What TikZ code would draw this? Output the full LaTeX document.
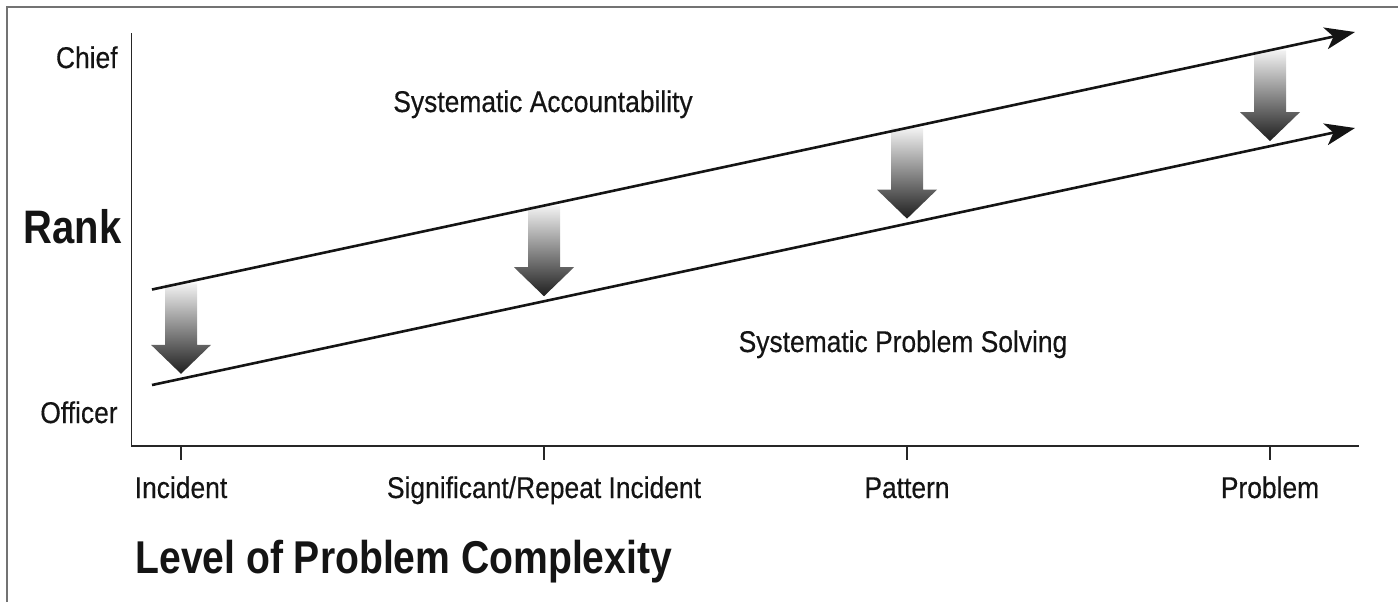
\documentclass[tikz,border=0pt]{standalone}
\usepackage{fontspec}
\setmainfont{Liberation Sans}[FakeStretch=0.88, FakeBold=0.4]
\newfontfamily\headfont{Liberation Sans}[FakeStretch=0.85]
\usetikzlibrary{arrows.meta}
\tikzset{
  label_txt/.style = {font=\fontsize{15}{18}\selectfont, text=black!92, inner sep=0pt},
  head_txt/.style = {font=\headfont\bfseries\fontsize{23}{28}\selectfont, text=black!92, inner sep=0pt},
  trend_line/.style = {line width=1.3pt, black!92, -{Stealth[length=15pt, width=11pt, inset=4pt]}},
  axis_line/.style = {line width=0.8pt, black!85},
  down_arrow/.style = {top color=black!5, bottom color=black!88},
}

\begin{document}
\begin{tikzpicture}[x=0.5pt, y=-0.5pt]
  \useasboundingbox (0,0) rectangle (1398,602);
  \draw[black!55, line width=1pt] (7,602) -- (7,7) -- (1398,7);

  \foreach \x in {181,544,907,1270} {
    \pgfmathsetmacro{\ya}{289.5-0.214*(\x-152)}
    \pgfmathsetmacro{\yb}{385-0.2137*(\x-152)-5}
    \shade[down_arrow] (\x-16,\ya) -- (\x+16,\ya) -- (\x+16,\yb-29) -- (\x+30,\yb-29)
      -- (\x,\yb) -- (\x-30,\yb-29) -- (\x-16,\yb-29) -- cycle;
  }

  \coordinate (acc_start) at (152,289.5);
  \coordinate (acc_end) at (1355,32);
  \coordinate (sol_start) at (152,385);
  \coordinate (sol_end) at (1355,128);
  \draw[trend_line] (acc_start) -- (acc_end);
  \draw[trend_line] (sol_start) -- (sol_end);

  \coordinate (y_top) at (131.5,33);
  \coordinate (origin) at (131.5,446);
  \coordinate (x_end) at (1359,446);
  \draw[axis_line] (y_top) -- (origin) -- (x_end);

  \foreach \x/\name/\txt in {181/incident/Incident, 544/repeat/{Significant/Repeat Incident},
      907/pattern/Pattern, 1270/problem/Problem} {
    \coordinate (tick_\name) at (\x,446);
    \draw[axis_line] (tick_\name) -- ++(0,14);
    \node[label_txt, anchor=base] (lbl_\name) at (\x,498) {\txt};
  }

  \node[label_txt, anchor=base east] (chief) at (118,68) {Chief};
  \node[label_txt, anchor=base east] (officer) at (118,423) {Officer};
  \node[head_txt, anchor=base east, font=\headfont\bfseries\fontsize{23.5}{28}\selectfont] (rank) at (122,243) {Rank};
  \node[head_txt, anchor=base west] (complexity) at (135,573) {Level of Problem Complexity};
  \node[label_txt, anchor=base] (accountability) at (543,112) {Systematic Accountability};
  \node[label_txt, anchor=base] (solving) at (903,352) {Systematic Problem Solving};
\end{tikzpicture}
\end{document}
